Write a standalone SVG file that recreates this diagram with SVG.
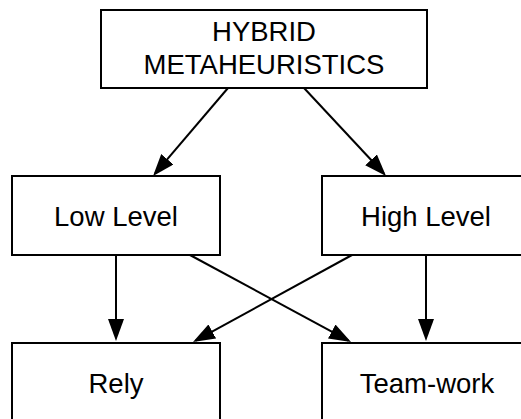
<svg xmlns="http://www.w3.org/2000/svg" width="521" height="419" viewBox="0 0 521 419">
<style>
.box{fill:#fff;stroke:#000;stroke-width:2}
.lbl{font-family:"Liberation Sans",Arial,Helvetica,sans-serif;font-size:27.5px;fill:#000;text-anchor:middle}
.edge{stroke:#000;stroke-width:2;fill:none;marker-end:url(#arr)}
</style>
<defs>
<marker id="arr" markerUnits="userSpaceOnUse" markerWidth="22" markerHeight="16" refX="19" refY="8" orient="auto">
<path d="M0,0 L22,8 L0,16 z" fill="#000"/>
</marker>
</defs>
<rect width="521" height="419" fill="#fff"/>
<g id="connectors">
<line class="edge" x1="228" y1="88" x2="155" y2="173.7"/>
<line class="edge" x1="304" y1="88" x2="384" y2="173.8"/>
<line class="edge" x1="116" y1="255" x2="116" y2="338"/>
<line class="edge" x1="426" y1="255" x2="426" y2="338"/>
<line class="edge" x1="190" y1="255" x2="348.4" y2="340.6"/>
<line class="edge" x1="352" y1="255" x2="195.6" y2="340.6"/>
</g>
<g id="hybrid">
<rect class="box" x="101" y="10" width="326" height="78"/>
<text class="lbl" x="264" y="41">HYBRID</text>
<text class="lbl" x="264" y="74">METAHEURISTICS</text>
</g>
<g id="low">
<rect class="box" x="12" y="176" width="208" height="79"/>
<text class="lbl" x="116" y="226">Low Level</text>
</g>
<g id="high">
<rect class="box" x="322" y="176" width="208" height="79"/>
<text class="lbl" x="426" y="226">High Level</text>
</g>
<g id="rely">
<rect class="box" x="12" y="343" width="208" height="79"/>
<text class="lbl" x="116" y="393">Rely</text>
</g>
<g id="teamwork">
<rect class="box" x="322" y="343" width="208" height="79"/>
<text class="lbl" x="427" y="393">Team-work</text>
</g>
</svg>
